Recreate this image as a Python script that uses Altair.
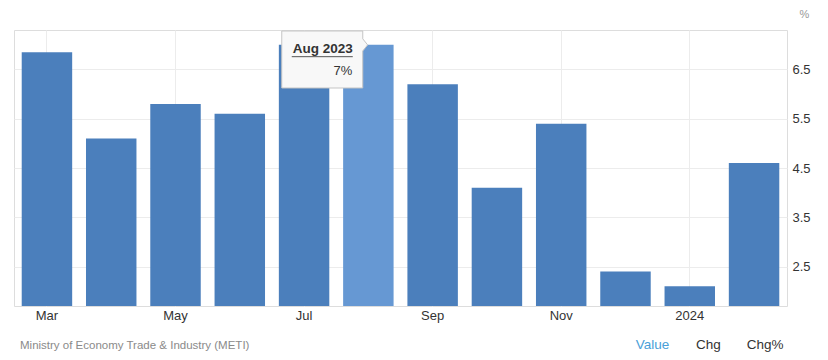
import altair as alt
import pandas as pd

# ---- data ----
periods = ["Mar 2023", "Apr 2023", "May 2023", "Jun 2023", "Jul 2023", "Aug 2023",
           "Sep 2023", "Oct 2023", "Nov 2023", "Dec 2023", "Jan 2024", "Feb 2024"]
values = [6.85, 5.1, 5.8, 5.6, 7.0, 7.0, 6.2, 4.1, 5.4, 2.4, 2.1, 4.6]
tick_periods = ["Mar 2023", "May 2023", "Jul 2023", "Sep 2023", "Nov 2023", "Jan 2024"]
tick_labels = ["Mar", "May", "Jul", "Sep", "Nov", "2024"]
y_ticks = [2.5, 3.5, 4.5, 5.5, 6.5]
y_domain = [1.7, 7.3]
highlight = "Aug 2023"
source_text = "Ministry of Economy Trade & Industry (METI)"
tabs = ["Value", "Chg", "Chg%"]

df = pd.DataFrame({"period": periods, "value": values})
tip = df[df["period"] == highlight].copy()
tip["label"] = tip["value"].map(lambda v: f"{v:.0f}%")

FONT = "Liberation Sans"
DARK = "#4b7fbc"
LIGHT = "#6698d3"

W, H = 773, 276

label_expr = (
    "[" + ",".join(f"'{l}'" for l in tick_labels) + "]"
    "[indexof([" + ",".join(f"'{p}'" for p in tick_periods) + "], datum.value)]"
)

xscale = alt.Scale(domain=periods, paddingInner=0.215, paddingOuter=0.12)
yscale = alt.Scale(domain=y_domain, zero=False, nice=False)

bars = alt.Chart(df).mark_bar().encode(
    x=alt.X("period:N", sort=periods, scale=xscale,
            axis=alt.Axis(title=None, values=tick_periods, labelExpr=label_expr,
                          grid=True, gridColor="#ececec", bandPosition=0.5,
                          domain=False, ticks=False, labelAngle=0,
                          labelFont=FONT, labelFontSize=13, labelColor="#333333",
                          labelPadding=3)),
    y=alt.Y("value:Q", scale=yscale,
            axis=alt.Axis(orient="right", values=y_ticks, format=".1f",
                          grid=True, gridColor="#ececec", domain=False, ticks=False,
                          labelFont=FONT, labelFontSize=13, labelColor="#333333",
                          labelPadding=5, labelBaseline="middle",
                          title="%", titleAngle=0, titleAlign="center",
                          titleBaseline="middle", titleX=17, titleY=-16,
                          titleFont=FONT, titleFontSize=11, titleFontWeight="normal",
                          titleColor="#999999")),
    y2=alt.datum(y_domain[0]),
    color=alt.condition(alt.datum.period == highlight, alt.value(LIGHT), alt.value(DARK)),
)

box_path = ("M-1,-0.704L1,-0.704L1,-0.51L1.12,-0.36L1,-0.21L1,0.704L-1,0.704Z")
box = alt.Chart(tip).mark_point(
    shape=box_path, size=81 * 81, filled=True, fill="#f8f8f8", stroke="#c4c4c4",
    strokeWidth=1, opacity=1, xOffset=-46.1, yOffset=14.7
).encode(x=alt.X("period:N", sort=periods, scale=xscale), y=alt.Y("value:Q", scale=yscale))

underline = alt.Chart(tip).mark_point(
    shape="M-1,0L1,0", size=61 * 61, filled=False, stroke="#555555",
    strokeWidth=1, opacity=1, xOffset=-46.1, yOffset=11.9
).encode(x=alt.X("period:N", sort=periods, scale=xscale), y=alt.Y("value:Q", scale=yscale))

tip_title = alt.Chart(tip).mark_text(
    align="right", baseline="alphabetic", dx=-15.6, dy=8.2,
    font=FONT, fontSize=13.5, fontWeight="bold", color="#333333"
).encode(x=alt.X("period:N", sort=periods, scale=xscale), y=alt.Y("value:Q", scale=yscale),
         text="period:N")

tip_value = alt.Chart(tip).mark_text(
    align="right", baseline="alphabetic", dx=-16, dy=30,
    font=FONT, fontSize=13, color="#333333"
).encode(x=alt.X("period:N", sort=periods, scale=xscale), y=alt.Y("value:Q", scale=yscale),
         text="label:N")

src = alt.Chart(pd.DataFrame({"t": [source_text]})).mark_text(
    align="left", baseline="alphabetic", font=FONT, fontSize=11.5, color="#8a8a8a"
).encode(x=alt.value(6), y=alt.value(319), text="t:N")

tab_layers = []
tab_x = [621.7, 682, 732.7]
tab_colors = ["#4aa0d8", "#333333", "#333333"]
for t, xx, cc in zip(tabs, tab_x, tab_colors):
    tab_layers.append(
        alt.Chart(pd.DataFrame({"t": [t]})).mark_text(
            align="left", baseline="alphabetic", font=FONT, fontSize=13.5, color=cc
        ).encode(x=alt.value(xx), y=alt.value(319), text="t:N")
    )

chart = alt.layer(bars, box, underline, tip_title, tip_value, src, *tab_layers).properties(
    width=W, height=H,
    autosize=alt.AutoSizeParams(type="none"),
    padding={"left": 6, "top": 22, "right": 33, "bottom": 46},
).configure_view(stroke="#e6e6e6", strokeWidth=1).configure(background="white")

chart.save("out.html", embed_options={"renderer": "svg", "actions": False})
